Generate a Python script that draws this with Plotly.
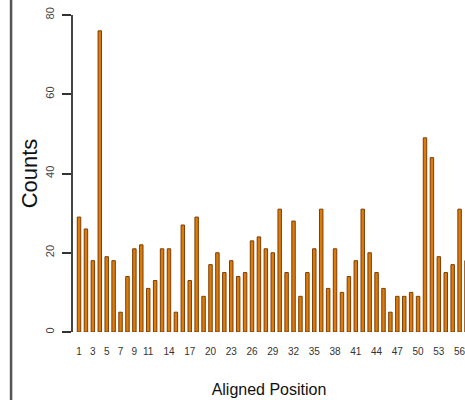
import plotly.graph_objects as go

positions = list(range(1, 58))
counts = [29, 26, 18, 76, 19, 18, 5, 14, 21, 22,
          11, 13, 21, 21, 5, 27, 13, 29, 9, 17,
          20, 15, 18, 14, 15, 23, 24, 21, 20, 31,
          15, 28, 9, 15, 21, 31, 11, 21, 10, 14,
          18, 31, 20, 15, 11, 5, 9, 9, 10, 9,
          49, 44, 19, 15, 17, 31, 18]
tick_positions = [1, 3, 5, 7, 9, 11, 14, 17, 20, 23, 26, 29, 32, 35, 38, 41, 44, 47, 50, 53, 56]
tick_labels = [str(t) for t in tick_positions]
y_ticks = [0, 20, 40, 60, 80]

sans = "Liberation Sans, Arial, sans-serif"

fig = go.Figure(go.Bar(
    x=positions, y=counts, width=0.5,
    marker=dict(color="#DC7A0C", line=dict(color="#7A3E05", width=1)),
))

fig.update_layout(
    width=465, height=400,
    margin=dict(l=73, r=0, t=15, b=68),
    paper_bgcolor="white", plot_bgcolor="white",
    showlegend=False,
    xaxis=dict(range=[0.13, 56.78], tickmode="array", tickvals=tick_positions,
               ticktext=tick_labels, showgrid=False, zeroline=False, showline=False,
               automargin=False, ticklabeloverflow="allow",
               ticks="", tickfont=dict(family=sans, size=10, color="#333333"),
               ticklabelstandoff=12,
               title=dict(text="Aligned Position", font=dict(family=sans, size=16, color="#111111"),
                          standoff=27)),
    yaxis=dict(range=[0, 80], tickmode="array", tickvals=y_ticks, showgrid=False,
               automargin=False, ticklabeloverflow="allow",
               zeroline=False, showline=True, linecolor="#444444", linewidth=1.5,
               ticks="outside", ticklen=9, tickwidth=1.5, tickcolor="#333333",
               tickangle=-90, tickfont=dict(family=sans, size=11, color="#444444"),
               ticklabelstandoff=4,
               title=dict(text="Counts", font=dict(family=sans, size=22, color="#111111"),
                          standoff=0)),
    shapes=[dict(type="line", xref="paper", yref="paper", x0=-0.158, x1=-0.158,
                 y0=-0.25, y1=1.06, line=dict(color="#555555", width=2.5))],
)

fig.write_html("out.html", config={"displayModeBar": False},
               post_script="document.body.style.margin='0';document.body.style.overflow='hidden';")
